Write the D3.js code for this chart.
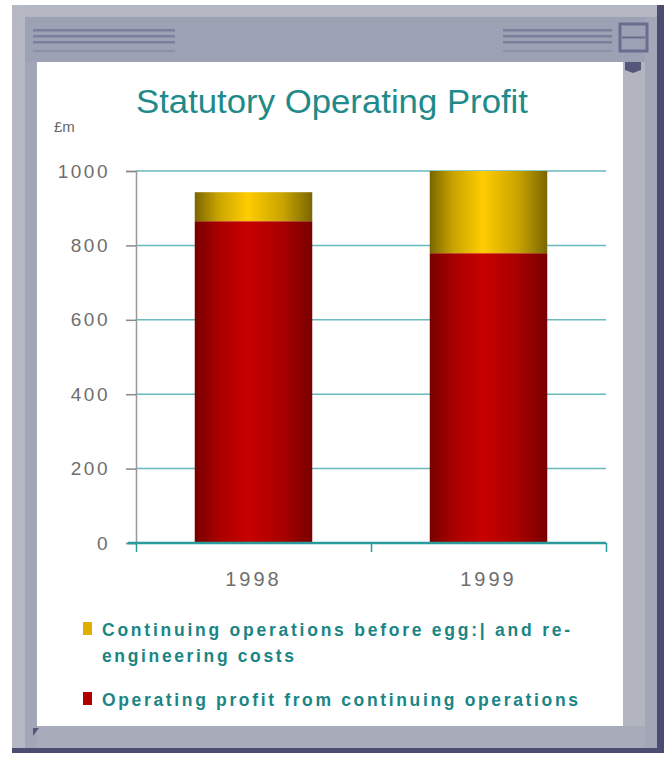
<!DOCTYPE html>
<html>
<head>
<meta charset="utf-8">
<script src="https://cdn.jsdelivr.net/npm/d3@7"></script>
<style>
body { margin: 0; background: #fff; }
svg { display: block; }
</style>
</head>
<body>
<div id="chart"></div>
<script>
// chart values
var years = ["1998", "1999"];
var operatingProfit = [865, 779];
var beforeCosts = [78, 221];
var yTicks = [0, 200, 400, 600, 800, 1000];
var seriesNames = ["Continuing operations before egg:| and re-", "engineering costs", "Operating profit from continuing operations"];

var W = 671, H = 758;
var svg = d3.select("#chart").append("svg")
    .attr("width", W)
    .attr("height", H);

var defs = svg.append("defs");
function barGrad(id, dark, mid, light) {
    var g = defs.append("linearGradient").attr("id", id)
        .attr("x1", "0%").attr("x2", "100%").attr("y1", "0%").attr("y2", "0%");
    g.append("stop").attr("offset", "0%").attr("stop-color", dark);
    g.append("stop").attr("offset", "20%").attr("stop-color", mid);
    g.append("stop").attr("offset", "45%").attr("stop-color", light);
    g.append("stop").attr("offset", "75%").attr("stop-color", mid);
    g.append("stop").attr("offset", "100%").attr("stop-color", dark);
}
barGrad("gRed", "#780000", "#a80000", "#c80000");
barGrad("gYel", "#7a6600", "#c9a400", "#ffcc00");

// window frame
svg.append("rect").attr("x", 12).attr("y", 5).attr("width", 652).attr("height", 748).attr("fill", "#4c4c72");
svg.append("rect").attr("x", 12).attr("y", 5).attr("width", 645).attr("height", 743).attr("fill", "#a2a6b6");
svg.append("rect").attr("x", 12).attr("y", 5).attr("width", 645).attr("height", 12).attr("fill", "#b4b6c2");
svg.append("rect").attr("x", 12).attr("y", 5).attr("width", 13).attr("height", 743).attr("fill", "#b6b8c4");
svg.append("rect").attr("x", 25).attr("y", 17).attr("width", 620).attr("height", 45).attr("fill", "#9ca1b4");
svg.append("rect").attr("x", 623).attr("y", 62).attr("width", 22).attr("height", 666).attr("fill", "#b2b4c0");
svg.append("rect").attr("x", 37).attr("y", 726).attr("width", 608).attr("height", 22).attr("fill", "#a8abb9");

[[33, 175], [503, 612]].forEach(function(s) {
    [29, 35, 41, 50].forEach(function(y, i) {
        svg.append("rect").attr("x", s[0]).attr("y", y).attr("width", s[1] - s[0])
            .attr("height", i == 3 ? 2 : 2.5).attr("fill", i == 3 ? "#8d91a8" : "#7b7f9c");
    });
});
svg.append("rect").attr("x", 620).attr("y", 24).attr("width", 27).attr("height", 27)
    .attr("fill", "#9ca1b4").attr("stroke", "#6a6d8e").attr("stroke-width", 3);
svg.append("line").attr("x1", 622).attr("x2", 645).attr("y1", 37.5).attr("y2", 37.5)
    .attr("stroke", "#6a6d8e").attr("stroke-width", 2);

// content area
svg.append("rect").attr("x", 37).attr("y", 62).attr("width", 586).attr("height", 664).attr("fill", "#ffffff");
svg.append("path").attr("d", "M625,62 L641,62 L641,70 L633,73 L625,70 Z").attr("fill", "#55577a");
svg.append("path").attr("d", "M33,728 L39,728 L33,736 Z").attr("fill", "#55577a");

// title
svg.append("text").attr("x", 332).attr("y", 113).attr("text-anchor", "middle")
    .attr("font-family", "Liberation Sans, Arial, sans-serif").attr("font-size", 34)
    .attr("fill", "#1f8a8a").attr("textLength", 392).attr("lengthAdjust", "spacingAndGlyphs")
    .text("Statutory Operating Profit");
svg.append("text").attr("x", 54).attr("y", 132)
    .attr("font-family", "Liberation Sans, Arial, sans-serif").attr("font-size", 15)
    .attr("fill", "#666").text("£m");

// scales
var x0 = 136, x1 = 606, yTop = 171, yBot = 543;
var x = d3.scaleBand().domain(years).range([x0, x1]).paddingInner(0.5).paddingOuter(0.25);
var y = d3.scaleLinear().domain([0, 1000]).range([yBot, yTop]);

var g = svg.append("g");

// gridlines
g.selectAll("line.grid").data(yTicks.filter(function(d) { return d > 0; }))
    .enter().append("line").attr("class", "grid")
    .attr("x1", x0).attr("x2", x1)
    .attr("y1", function(d) { return y(d); }).attr("y2", function(d) { return y(d); })
    .attr("stroke", "#68b9bb").attr("stroke-width", 1.5);

// y axis
var yAxis = d3.axisLeft(y).tickValues(yTicks).tickSize(10).tickPadding(16).tickFormat(d3.format("d"));
var ya = g.append("g").attr("transform", "translate(" + x0 + ",0)").call(yAxis);
ya.select(".domain").attr("stroke", "#999").attr("stroke-width", 1.5);
ya.selectAll(".tick line").attr("stroke", "#888").attr("stroke-width", 1.5);
ya.selectAll(".tick text").attr("font-family", "Liberation Sans, Arial, sans-serif")
    .attr("font-size", 19).attr("fill", "#6e6e6e").attr("letter-spacing", 2.5);

// stacked bars
var rows = years.map(function(yr, i) { return { year: yr, op: operatingProfit[i], cont: beforeCosts[i] }; });
var stack = d3.stack().keys(["op", "cont"]);
var layers = stack(rows);
var fills = { op: "url(#gRed)", cont: "url(#gYel)" };
layers.forEach(function(layer) {
    g.selectAll("rect.bar-" + layer.key).data(layer).enter().append("rect")
        .attr("class", "bar-" + layer.key)
        .attr("x", function(d) { return x(d.data.year); })
        .attr("width", x.bandwidth())
        .attr("y", function(d) { return y(d[1]); })
        .attr("height", function(d) { return y(d[0]) - y(d[1]); })
        .attr("fill", fills[layer.key]);
});

// x axis
var xAxis = d3.axisBottom(d3.scaleLinear().domain([0, 2]).range([x0, x1])).ticks(2).tickSize(9).tickFormat("");
var xa = g.append("g").attr("transform", "translate(0," + yBot + ")").call(xAxis);
xa.select(".domain").remove();
xa.selectAll(".tick line").attr("stroke", "#2a9a9c").attr("stroke-width", 1.5);
g.append("line").attr("x1", x0 - 8).attr("x2", x1).attr("y1", yBot).attr("y2", yBot)
    .attr("stroke", "#2a9a9c").attr("stroke-width", 2.5);
g.selectAll("text.xl").data(years).enter().append("text").attr("class", "xl")
    .attr("x", function(d) { return x(d) + x.bandwidth() / 2; })
    .attr("y", 586).attr("text-anchor", "middle")
    .attr("font-family", "Liberation Sans, Arial, sans-serif").attr("font-size", 20)
    .attr("fill", "#6e6e6e").attr("letter-spacing", 3)
    .text(function(d) { return d; });

// legend
var legFont = "Liberation Sans, Arial, sans-serif";
svg.append("rect").attr("x", 83).attr("y", 622).attr("width", 9).attr("height", 13).attr("fill", "#e0b000");
svg.append("rect").attr("x", 83).attr("y", 692).attr("width", 9).attr("height", 13).attr("fill", "#b00000");
var legItems = [
    { t: seriesNames[0], y: 636, w: 468 },
    { t: seriesNames[1], y: 662, w: 192 },
    { t: seriesNames[2], y: 706, w: 476 }
];
svg.selectAll("text.leg").data(legItems).enter().append("text").attr("class", "leg")
    .attr("x", 102).attr("y", function(d) { return d.y; })
    .attr("font-family", legFont).attr("font-size", 17.5).attr("font-weight", "bold")
    .attr("fill", "#1a8585")
    .attr("textLength", function(d) { return d.w; }).attr("lengthAdjust", "spacing")
    .text(function(d) { return d.t; });
</script>
</body>
</html>
